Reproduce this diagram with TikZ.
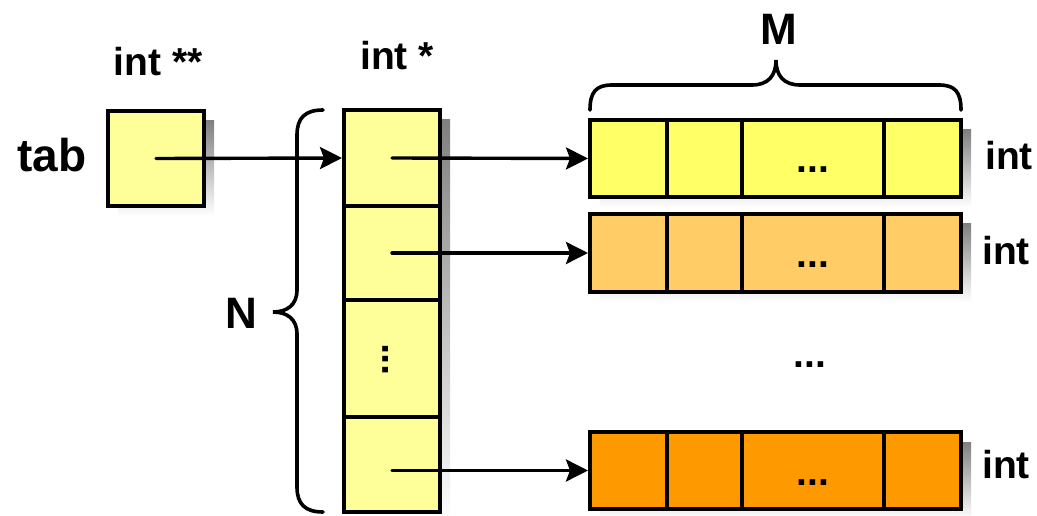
\documentclass[tikz,border=0pt]{standalone}
\usepackage{fontspec}
\setmainfont{Liberation Sans}
\usetikzlibrary{arrows.meta,calc}
\definecolor{cellY}{HTML}{FFFF99}
\definecolor{rowA}{HTML}{FFFF66}
\definecolor{rowB}{HTML}{FFCC66}
\definecolor{rowC}{HTML}{FF9900}
\definecolor{shade}{HTML}{DCDCDC}
\newcommand\mkcell[6]{\node[box,fill=#6,minimum width={(#4-#2)*1pt},minimum height={(#5-#3)*1pt}] (#1) at ({(#2+#4)/2},{(#3+#5)/2}) {};}
\begin{document}
\begin{tikzpicture}[x=1pt,y=-1pt,
  box/.style={draw,line width=4pt,inner sep=0pt,outer sep=0pt},
  arr/.style={line width=3.4pt,line cap=round,-{Stealth[length=22pt,width=22pt,inset=4pt]},shorten >=2pt},
  brc/.style={line width=3.6pt,line cap=round},
  lbl/.style={font=\fontsize{39}{39}\selectfont\bfseries,inner sep=0pt,anchor=base},
  big/.style={font=\fontsize{44}{44}\selectfont\bfseries,inner sep=0pt,anchor=base},
  dotsn/.style={font=\fontsize{39}{39}\selectfont\bfseries,inner sep=0pt,anchor=base}]
\useasboundingbox (0,0) rectangle (1037,516);
% shadows
\fill[shade] (118,121) rectangle (214,216);
\fill[shade] (354,120) rectangle (450,522);
\fill[shade] (600,130) rectangle (971,207);
\fill[shade] (600,224) rectangle (971,302);
\fill[shade] (600,442) rectangle (971,519);
% tab box
\mkcell{tab}{108}{111}{204}{206}{cellY}
% pointer column
\mkcell{p1}{344}{110}{440}{206}{cellY}
\mkcell{p2}{344}{206}{440}{300}{cellY}
\mkcell{p3}{344}{300}{440}{417}{cellY}
\mkcell{p4}{344}{417}{440}{512}{cellY}
% rows
\mkcell{a11}{590}{120}{667}{197}{rowA}
\mkcell{a12}{667}{120}{742}{197}{rowA}
\mkcell{a13}{742}{120}{884}{197}{rowA}
\mkcell{a14}{884}{120}{961}{197}{rowA}
\mkcell{a21}{590}{214}{667}{292}{rowB}
\mkcell{a22}{667}{214}{742}{292}{rowB}
\mkcell{a23}{742}{214}{884}{292}{rowB}
\mkcell{a24}{884}{214}{961}{292}{rowB}
\mkcell{a31}{590}{432}{667}{509}{rowC}
\mkcell{a32}{667}{432}{742}{509}{rowC}
\mkcell{a33}{742}{432}{884}{509}{rowC}
\mkcell{a34}{884}{432}{961}{509}{rowC}
% dots
\node[dotsn] (d1) at ($(a13.center)+(0,14.5)$) {...};
\node[dotsn] (d2) at ($(a23.center)+(0,14.5)$) {...};
\node[dotsn] (d3) at ($(a33.center)+(0,14.5)$) {...};
\node[dotsn] (dm) at (810,367) {...};
\node[dotsn,rotate=90] (dv) at (388,359.5) {...};
% arrows
\draw[arr] (tab.center) -- (p1.west);
\draw[arr] (p1.center) -- (a11.west);
\draw[arr] (p2.center) -- (a21.west);
\draw[arr] (p4.center |- a31.west) -- (a31.west);
% braces
\draw[brc] (323,110) .. controls (305,110) and (297,118) .. (297,135) -- (297,290)
  .. controls (297,305) and (287,312) .. (273,312)
  .. controls (287,312) and (297,319) .. (297,334) -- (297,487)
  .. controls (297,504) and (305,512) .. (323,512);
\draw[brc] (590,110) .. controls (590,92) and (596,85) .. (612,85) -- (752,85)
  .. controls (768,85) and (776,76) .. (776,60)
  .. controls (776,76) and (784,85) .. (800,85) -- (939,85)
  .. controls (955,85) and (961,92) .. (961,110);
% labels
\node[font=\fontsize{46}{46}\selectfont\bfseries,inner sep=0pt,anchor=base] (tablbl) at (52,172) {tab};
\node[lbl] (t2) at (158,76) {int **};
\node[lbl] (t1) at (397,70) {int *};
\node[lbl] (r1) at (1009,170) {int};
\node[lbl] (r2) at (1006,265) {int};
\node[lbl] (r3) at (1006,478) {int};
\node[big] (M) at (779,45) {M};
\node[big] (N) at (241,328) {N};
\end{tikzpicture}
\end{document}
